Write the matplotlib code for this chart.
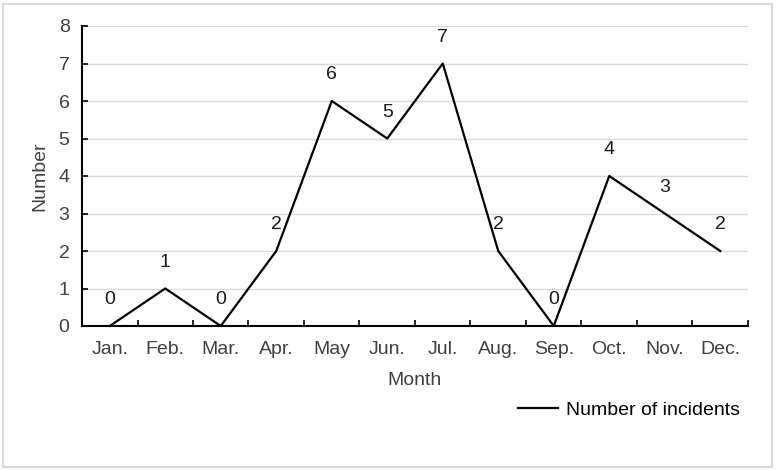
import matplotlib
matplotlib.use("Agg")
import matplotlib.pyplot as plt
from matplotlib.patches import Rectangle

plt.rcParams['font.family'] = ['Liberation Sans', 'DejaVu Sans']

months = ["Jan.", "Feb.", "Mar.", "Apr.", "May", "Jun.", "Jul.", "Aug.", "Sep.", "Oct.", "Nov.", "Dec."]
incidents = [0, 1, 0, 2, 6, 5, 7, 2, 0, 4, 3, 2]
series_name = "Number of incidents"

W, H = 776, 470
fig = plt.figure(figsize=(W / 100, H / 100), dpi=100)
fig.patch.set_facecolor("white")
fig.patches.append(Rectangle((3 / W, 3 / H), 1 - 7 / W, 1 - 7 / H, transform=fig.transFigure,
                             fill=False, edgecolor="#d9d9d9", linewidth=1.5))

left, right, top, bottom = 82, 748, 26, 326
ax = fig.add_axes([left / W, 1 - bottom / H, (right - left) / W, (bottom - top) / H])

FS = 14
TXT = "#404040"

x = list(range(len(months)))
ax.plot(x, incidents, color="black", linewidth=1.6, label=series_name, clip_on=False, zorder=3)
for xi, v in zip(x, incidents):
    ax.annotate(str(v), (xi, v), xytext=(0, 19), textcoords="offset points",
                ha="center", va="center", fontsize=FS, color="#1a1a1a")

ax.set_xlim(-0.5, len(months) - 0.5)
ax.set_ylim(0, 8)
ax.set_yticks(range(0, 9))
ax.yaxis.grid(True, color="#d9d9d9", linewidth=1)
ax.set_axisbelow(True)

ax.set_xticks(x)
ax.set_xticklabels(months)
ax.set_xticks([i - 0.5 for i in range(len(months) + 1)], minor=True)
ax.tick_params(axis="x", which="major", length=0, pad=11, labelsize=FS, labelcolor=TXT)
ax.tick_params(axis="x", which="minor", direction="in", length=4.5, width=1.2, color="black")
ax.tick_params(axis="y", direction="in", length=4.5, width=1.2, color="black", pad=9,
               labelsize=FS, labelcolor=TXT)

for s in ["top", "right"]:
    ax.spines[s].set_visible(False)
for s in ["left", "bottom"]:
    ax.spines[s].set_color("black")
    ax.spines[s].set_linewidth(1.5)

ax.set_xlabel("Month", fontsize=FS, color=TXT, labelpad=10)
ax.set_ylabel("Number", fontsize=FS, color=TXT, labelpad=7)

leg = fig.legend(loc="center left", bbox_to_anchor=(518 / W, 1 - 410 / H), frameon=False,
                 fontsize=FS, handlelength=2.06, handletextpad=0.4, borderpad=0, borderaxespad=0)
for t in leg.get_texts():
    t.set_color("black")

fig.savefig("out.png", dpi=100, facecolor="white")
